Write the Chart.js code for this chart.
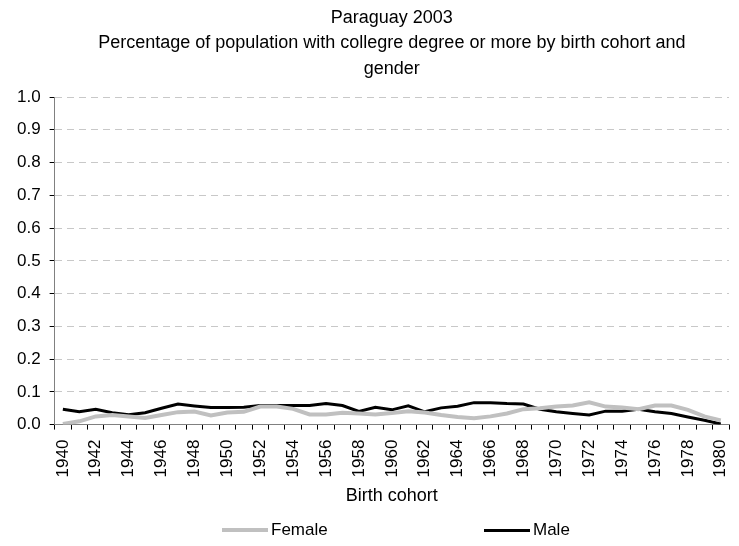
<!DOCTYPE html>
<html>
<head>
<meta charset="utf-8">
<script src="https://cdn.jsdelivr.net/npm/chart.js@4/dist/chart.umd.min.js"></script>
<style>
  body { margin: 0; background: #fff; }
  #wrap { position: relative; width: 739px; height: 546px; }
  #legend { position: absolute; left: 0; top: 519px; width: 739px; height: 22px;
    font-family: "Liberation Sans", Arial, sans-serif; font-size: 17px; color: #000; }
  .item { position: absolute; top: 0; display: flex; align-items: center; height: 22px; }
  .swatch { width: 46px; margin-right: 3px; }
</style>
</head>
<body>
<div id="wrap">
  <canvas id="chart" width="739" height="546"></canvas>
  <div id="legend">
    <div class="item" style="left:222px"><span class="swatch" style="border-top:4px solid #c0c0c0"></span>Female</div>
    <div class="item" style="left:484px"><span class="swatch" style="border-top:3px solid #000"></span>Male</div>
  </div>
</div>
<script>
// anni di nascita
const anni = [];
for (let a = 1940; a <= 1980; a++) anni.push(String(a));

// quota con laurea o più
const female = [0.002, 0.010, 0.025, 0.029, 0.025, 0.020, 0.029, 0.038, 0.040, 0.028,
  0.037, 0.039, 0.055, 0.055, 0.048, 0.031, 0.031, 0.036, 0.034, 0.031,
  0.035, 0.041, 0.037, 0.029, 0.023, 0.019, 0.025, 0.034, 0.047, 0.050,
  0.055, 0.058, 0.068, 0.055, 0.052, 0.047, 0.058, 0.058, 0.045, 0.025, 0.013];

const male = [0.047, 0.039, 0.047, 0.036, 0.030, 0.036, 0.050, 0.063, 0.057, 0.052,
  0.052, 0.053, 0.058, 0.058, 0.058, 0.058, 0.064, 0.058, 0.040, 0.053,
  0.045, 0.057, 0.039, 0.051, 0.056, 0.067, 0.067, 0.064, 0.063, 0.047,
  0.039, 0.034, 0.029, 0.041, 0.041, 0.047, 0.039, 0.034, 0.023, 0.013, 0.002];

const titolo = ["Paraguay 2003",
  "Percentage of population with collegre degree or more by birth cohort and",
  "gender"];

const font = "'Liberation Sans', Arial, sans-serif";

new Chart(document.getElementById('chart').getContext('2d'), {
  type: 'line',
  data: {
    labels: anni,
    datasets: [{
      label: 'Female',
      data: female,
      borderColor: '#c0c0c0',
      borderWidth: 4,
      pointRadius: 0,
      tension: 0
    }, {
      label: 'Male',
      data: male,
      borderColor: '#000000',
      borderWidth: 3,
      pointRadius: 0,
      tension: 0
    }]
  },
  options: {
    responsive: false,
    animation: false,
    layout: { padding: { left: 8, right: 10, top: 0, bottom: 39 } },
    plugins: {
      legend: { display: false },
      tooltip: { enabled: false },
      title: {
        display: true,
        fullSize: false,
        text: titolo,
        color: '#000',
        font: { family: font, size: 18, weight: 'normal', lineHeight: 1.39 },
        padding: { top: 6, bottom: 16 }
      }
    },
    scales: {
      x: {
        offset: true,
        // niente spazio extra a destra per le etichette ruotate
        afterFit: s => { s.paddingRight = 0; },
        grid: { display: true, drawOnChartArea: false, drawTicks: true, tickLength: 5, color: '#000', offset: true },
        border: { color: '#808080', width: 1 },
        ticks: {
          autoSkip: false,
          maxRotation: 90,
          minRotation: 90,
          padding: 10,
          color: '#000',
          font: { family: font, size: 17 },
          callback: function (v, i) { return i % 2 === 0 ? anni[i] : ''; }
        },
        title: {
          display: true,
          text: 'Birth cohort',
          color: '#000',
          font: { family: font, size: 18 },
          padding: { top: -2, bottom: 0 }
        }
      },
      y: {
        min: 0,
        max: 1,
        grid: { color: '#c8c8c8', tickColor: '#000', tickLength: 5 },
        border: { color: '#808080', width: 1, dash: [7, 5] },
        ticks: {
          stepSize: 0.1,
          color: '#000',
          padding: 9,
          font: { family: font, size: 17 },
          callback: v => v.toFixed(1)
        }
      }
    }
  }
});
</script>
</body>
</html>
